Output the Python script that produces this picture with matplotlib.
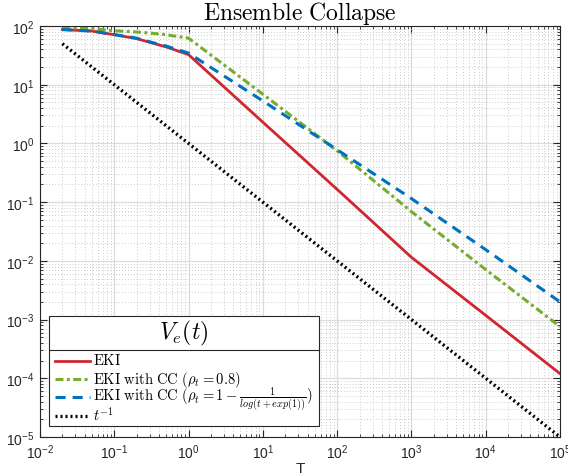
import matplotlib
matplotlib.use("Agg")
import matplotlib.pyplot as plt
from matplotlib.lines import Line2D
from matplotlib.patches import Rectangle

plt.rcParams['font.family'] = ['Liberation Sans', 'DejaVu Sans']
plt.rcParams['mathtext.fontset'] = 'custom'
plt.rcParams['mathtext.rm'] = 'Liberation Sans'
plt.rcParams['mathtext.it'] = 'Liberation Sans:italic'

# ---- data ----
t_vals = [0.02, 0.05, 0.1, 0.2, 0.33, 0.5, 1, 10, 100, 1000, 1e4, 1e5]
eki = [87, 82, 71, 61, 51, 44, 32.5, 2.3, 0.165, 0.0115, 1.18e-3, 1.2e-4]
eki_cc08 = [95, 90, 83, 79, 75, 71, 62, 6.9, 0.75, 0.069, 7.1e-3, 7.6e-4]
eki_cclog = [87, 82, 71.5, 62, 52, 45.5, 34.5, 5.3, 0.78, 0.115, 0.0155, 2.0e-3]
t_ref = [0.02, 1e5]
inv_t = [50, 1e-5]

labels = [r'$\mathrm{EKI}$',
          r'$\mathrm{EKI\ with\ CC\ }(\rho_t = 0.8)$',
          r'$\mathrm{EKI\ with\ CC\ }(\rho_t = 1 - \frac{1}{log(t+exp(1))})$',
          r'$t^{-1}$']
colors = ['#D0262F', '#77AC30', '#0072BD', '#000000']

fig = plt.figure(figsize=(5.68, 4.77), dpi=100)
ax = fig.add_axes([40/568, 39/477, 520/568, 411/477])

styles = [dict(lw=2.0, ls='-'),
          dict(lw=2.2, dashes=(2.6, 1.1, 1.0, 1.1)),
          dict(lw=2.2, dashes=(3.3, 2.3)),
          dict(lw=2.4, dashes=(0.6, 0.9))]

ax.plot(t_vals, eki, color=colors[0], **styles[0])
ax.plot(t_vals, eki_cc08, color=colors[1], **styles[1])
ax.plot(t_vals, eki_cclog, color=colors[2], **styles[2])
ax.plot(t_ref, inv_t, color=colors[3], **styles[3])

ax.set_xscale('log')
ax.set_yscale('log')
ax.set_xlim(1e-2, 1e5)
ax.set_ylim(1e-5, 1e2)
ax.set_xticks([1e-2, 1e-1, 1e0, 1e1, 1e2, 1e3, 1e4, 1e5])
ax.set_yticks([1e-5, 1e-4, 1e-3, 1e-2, 1e-1, 1e0, 1e1, 1e2])

ax.grid(True, which='major', color='#dcdcdc', lw=0.9, ls='-')
ax.grid(True, which='minor', color='#bcbcbc', lw=0.6, ls=(0, (1, 2.5)))
ax.set_axisbelow(True)
ax.tick_params(which='both', direction='in', top=True, right=True, color='#262626')
ax.tick_params(which='major', length=5, labelsize=10, labelcolor='#262626', pad=4)
ax.tick_params(which='minor', length=2.5)
for s in ax.spines.values():
    s.set_color('#262626')
    s.set_linewidth(0.8)

ax.set_xlabel('T', fontsize=11, color='#262626', labelpad=0)
ax.set_title(r'$\mathrm{Ensemble\ Collapse}$', fontsize=17, math_fontfamily='cm', pad=4)

# ---- MATLAB-style legend with title separator (drawn in axes fraction) ----
lx0, lx1, ly0, ly1 = 0.0179, 0.5371, 0.0260, 0.2951
ysep = 0.2124
ax.add_patch(Rectangle((lx0, ly0), lx1 - lx0, ly1 - ly0, transform=ax.transAxes,
                       facecolor='white', edgecolor='#262626', lw=0.8, zorder=20, clip_on=False))
ax.add_line(Line2D([lx0, lx1], [ysep, ysep], transform=ax.transAxes, color='#262626',
                   lw=0.8, zorder=21, clip_on=False))
ax.text(0.2769, 0.2555, r'$V_e(t)$', transform=ax.transAxes, fontsize=17,
        math_fontfamily='cm', ha='center', va='center', zorder=22)
rows = [0.1856, 0.1411, 0.0966, 0.0504]
for lab, col, sty, yy in zip(labels, colors, styles, rows):
    ax.add_line(Line2D([0.0288, 0.0962], [yy, yy], transform=ax.transAxes, color=col,
                       zorder=22, clip_on=False, **sty))
    ax.text(0.1013, yy - 0.0085, lab, transform=ax.transAxes, fontsize=10.5,
            math_fontfamily='cm', ha='left', va='baseline', zorder=22)

fig.savefig('out.png', dpi=100)
